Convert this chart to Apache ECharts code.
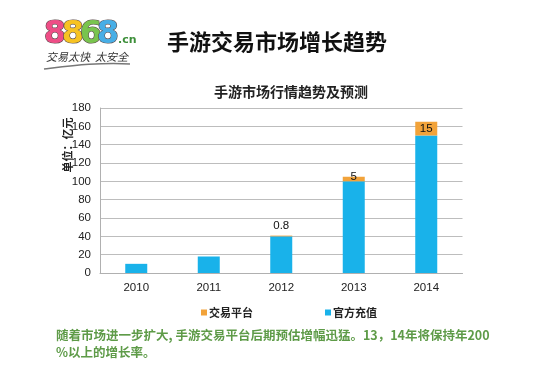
<!DOCTYPE html>
<html><head><meta charset="utf-8">
<script src="https://cdn.jsdelivr.net/npm/echarts@6/dist/echarts.min.js"></script>
<style>html,body{margin:0;padding:0;background:#fff}#c{width:550px;height:372px}</style>
</head><body><div id="c"></div>
<script>
const categories = ['2010', '2011', '2012', '2013', '2014'];
const officialValues = [10, 18, 40, 100, 150];
const platformValues = [null, null, 0.8, 5, 15];
const yTicks = { min: 0, max: 180, interval: 20 };
const seriesNames = ['交易平台', '官方充值'];
const pageTitle = '手游交易市场增长趋势';
const chartTitle = '手游市场行情趋势及预测';
const unitLabel = '单位：亿元';
const noteLines = ['随着市场进一步扩大, 手游交易平台后期预估增幅迅猛。13，14年将保持年200', '%以上的增长率。'];

const CJK = '"Noto Sans CJK SC", "Liberation Sans", sans-serif';
const NUM = '"Liberation Sans", Arial, sans-serif';
const chart = echarts.init(document.getElementById('c'), null, { renderer: 'canvas' });

function labelFor(v) {
  if (v >= 10) return { position: 'inside' };
  if (v >= 1) return { position: 'insideTop', offset: [0, -10] };
  return { position: 'top', distance: 4 };
}
const platformData = platformValues.map(v => v == null ? '-' : { value: v, label: labelFor(v) });

const logoDigits = [
  { t: '8', c: '#ee4d86', x: 55 },
  { t: '8', c: '#f7c322', x: 73 },
  { t: '6', c: '#79c44e', x: 91 },
  { t: '8', c: '#47aee6', x: 108 }
];

chart.setOption({
  animation: false,
  backgroundColor: '#ffffff',
  grid: { left: 100, right: 87.5, top: 108, bottom: 99, containLabel: false },
  legend: {
    data: seriesNames,
    left: 196, top: 302,
    itemWidth: 6, itemHeight: 6, itemGap: 72,
    icon: 'rect',
    textStyle: { fontFamily: CJK, fontSize: 11, fontWeight: 'bold', color: '#222', padding: [0, 0, 0, -3] }
  },
  xAxis: {
    type: 'category',
    data: categories,
    axisLine: { lineStyle: { color: '#b0b0b0', width: 1 } },
    axisTick: { show: false },
    axisLabel: { color: '#222', fontFamily: NUM, fontSize: 11.5, margin: 9 }
  },
  yAxis: {
    type: 'value',
    min: yTicks.min, max: yTicks.max, interval: yTicks.interval,
    axisLine: { show: true, lineStyle: { color: '#b0b0b0', width: 1 } },
    axisTick: { show: false },
    splitLine: { lineStyle: { color: '#bdbdbd', width: 1 } },
    axisLabel: { color: '#222', fontFamily: NUM, fontSize: 11.5, margin: 9 }
  },
  series: [
    {
      name: seriesNames[1], type: 'bar', stack: 'total', barWidth: 22,
      itemStyle: { color: '#19b2ea' },
      data: officialValues
    },
    {
      name: seriesNames[0], type: 'bar', stack: 'total', barWidth: 22,
      itemStyle: { color: '#f2a33a' },
      label: { show: true, color: '#111', fontFamily: NUM, fontSize: 11.5, distance: 4 },
      data: platformData
    }
  ],
  graphic: [
    { type: 'text', left: 167, top: 31, style: { text: pageTitle, font: 'bold 22px ' + CJK, fill: '#111' } },
    { type: 'text', left: 214, top: 85, style: { text: chartTitle, font: 'bold 14px ' + CJK, fill: '#222' } },
    { type: 'text', x: 68, y: 145, rotation: Math.PI / 2, style: { text: unitLabel, font: 'bold 11px ' + CJK, fill: '#222', align: 'center', verticalAlign: 'middle' } },
    { type: 'text', left: 56, top: 329, style: { text: noteLines[0], font: 'bold 12.5px ' + CJK, fill: '#5e9b48' } },
    { type: 'text', left: 56, top: 346, style: { text: noteLines[1], font: 'bold 12.5px ' + CJK, fill: '#5e9b48' } },
    ...logoDigits.map(d => ({
      type: 'text', x: d.x, y: 35,
      style: { text: d.t, font: '900 32px "DejaVu Sans", sans-serif', fill: d.c, stroke: '#5a4a4a', lineWidth: 1.2, align: 'center', verticalAlign: 'middle' }
    })),
    { type: 'text', x: 118, y: 40, style: { text: '.cn', font: 'bold 11px "DejaVu Sans", sans-serif', fill: '#3d8f3a', verticalAlign: 'middle' } },
    { type: 'text', x: 46, y: 51, style: { text: '交易太快  太安全', font: 'italic 11px ' + CJK, fill: '#333' } },
    { type: 'bezierCurve', shape: { x1: 44, y1: 69, x2: 130, y2: 64, cpx1: 70, cpy1: 66, cpx2: 100, cpy2: 62 }, style: { stroke: '#777', lineWidth: 1.5, fill: null } }
  ]
});
</script></body></html>
